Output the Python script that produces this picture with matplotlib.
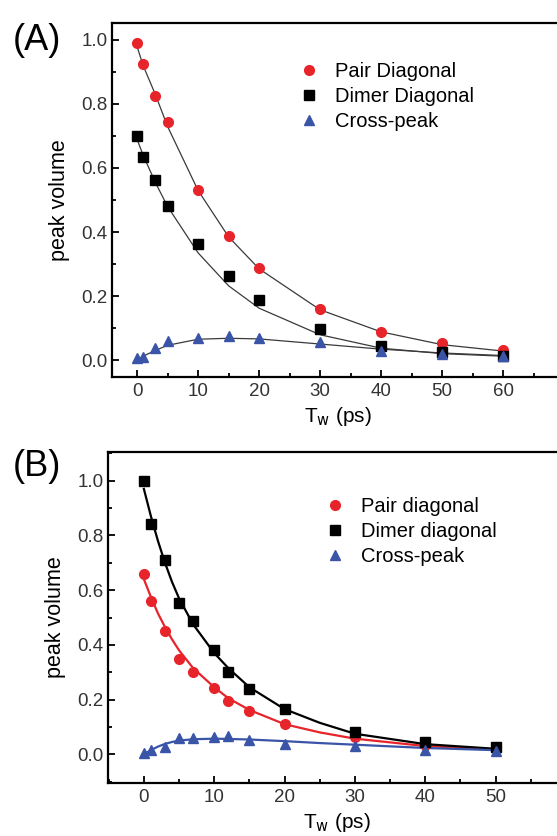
import numpy as np
import matplotlib
matplotlib.use('Agg')
import matplotlib.pyplot as plt
from matplotlib.ticker import MultipleLocator, FixedLocator, FormatStrFormatter

plt.rcParams['font.family'] = ['Liberation Sans', 'DejaVu Sans']
plt.rcParams['mathtext.default'] = 'regular'

# Panel A data
tw_a = [0, 1, 3, 5, 10, 15, 20, 30, 40, 50, 60]
pair_a = [0.99, 0.924, 0.824, 0.745, 0.53, 0.387, 0.287, 0.159, 0.088, 0.052, 0.031]
dimer_a = [0.70, 0.633, 0.562, 0.482, 0.364, 0.261, 0.187, 0.097, 0.043, 0.026, 0.013]
cross_a = [0.005, 0.008, 0.039, 0.058, 0.069, 0.074, 0.069, 0.055, 0.029, 0.019, 0.013]
# fitted values (panel A fit is drawn through the data times)
pair_a_fit = [0.98, 0.92, 0.83, 0.73, 0.53, 0.385, 0.285, 0.157, 0.088, 0.048, 0.028]
dimer_a_fit = [0.69, 0.64, 0.555, 0.48, 0.335, 0.232, 0.162, 0.079, 0.037, 0.02, 0.012]
cross_a_fit = [0.0, 0.012, 0.03, 0.046, 0.065, 0.068, 0.066, 0.05, 0.034, 0.022, 0.014]
xticks_a = [0, 10, 20, 30, 40, 50, 60]

# Panel B data
tw_b = [0, 1, 3, 5, 7, 10, 12, 15, 20, 30, 40, 50]
pair_b = [0.658, 0.559, 0.451, 0.35, 0.302, 0.244, 0.193, 0.157, 0.109, 0.062, 0.035, 0.027]
dimer_b = [1.0, 0.842, 0.709, 0.553, 0.489, 0.382, 0.302, 0.239, 0.164, 0.08, 0.044, 0.028]
cross_b = [0.005, 0.015, 0.027, 0.06, 0.06, 0.063, 0.066, 0.053, 0.039, 0.029, 0.015, 0.011]
# fitted curves
tw_b_fit = [0, 1, 2, 3, 4, 5, 7, 10, 12, 15, 20, 25, 30, 40, 50]
pair_b_fit = [0.64, 0.575, 0.515, 0.465, 0.42, 0.38, 0.315, 0.245, 0.205, 0.162, 0.11, 0.08, 0.057, 0.03, 0.018]
dimer_b_fit = [0.97, 0.87, 0.78, 0.70, 0.63, 0.57, 0.475, 0.37, 0.315, 0.245, 0.165, 0.115, 0.075, 0.037, 0.02]
cross_b_fit = [0.0, 0.015, 0.028, 0.038, 0.045, 0.05, 0.055, 0.057, 0.056, 0.054, 0.048, 0.041, 0.035, 0.023, 0.015]
xticks_b = [0, 10, 20, 30, 40, 50]

RED = '#e8242b'
BLUE = '#3a55a8'
W, H = 557, 836

fig = plt.figure(figsize=(W / 100, H / 100), dpi=100)


def style_axes(ax, xticks):
    ax.xaxis.set_major_locator(FixedLocator(xticks))
    ax.xaxis.set_minor_locator(MultipleLocator(5))
    ax.yaxis.set_major_locator(MultipleLocator(0.2))
    ax.yaxis.set_minor_locator(MultipleLocator(0.1))
    ax.tick_params(which='both', direction='in', width=1.3, labelsize=13.5,
                   labelcolor='#333333', top=False, right=False)
    ax.tick_params(which='major', length=5)
    ax.tick_params(axis='y', which='major', pad=3)
    ax.tick_params(axis='x', which='major', pad=4)
    ax.tick_params(which='minor', length=3)
    ax.yaxis.set_major_formatter(FormatStrFormatter('%.1f'))
    for s in ax.spines.values():
        s.set_linewidth(1.6)
    ax.set_ylabel('peak volume', fontsize=15.5, labelpad=8)
    ax.set_xlabel(r'T$_{\rm w}$ (ps)', fontsize=15, labelpad=4)


# ---- (A) ----
axA = fig.add_axes([112 / W, 1 - 377 / H, 451 / W, 354 / H])
axA.plot(tw_a, pair_a_fit, color='#3a3a3a', lw=0.9)
axA.plot(tw_a, dimer_a_fit, color='#3a3a3a', lw=0.9)
axA.plot(tw_a, cross_a_fit, color='#3a3a3a', lw=0.9)
axA.plot(tw_a, pair_a, 'o', color=RED, ms=7, label='Pair Diagonal')
axA.plot(tw_a, dimer_a, 's', color='black', ms=6.5, label='Dimer Diagonal')
axA.plot(tw_a, cross_a, '^', color=BLUE, ms=7, label='Cross-peak')
axA.set_xlim(-4.1, 69.8)
axA.set_ylim(-0.053, 1.053)
style_axes(axA, xticks_a)
axA.legend(loc='upper left', bbox_to_anchor=(0.37, 0.94), frameon=False,
           fontsize=14.5, handletextpad=0.7, labelspacing=0.3, handlelength=1.2)
fig.text(37 / W, 1 - 40 / H, '(A)', fontsize=26, ha='center', va='center')

# ---- (B) ----
axB = fig.add_axes([108 / W, 1 - 783 / H, 458 / W, 331 / H])
axB.plot(tw_b_fit, pair_b_fit, color=RED, lw=1.6)
axB.plot(tw_b_fit, dimer_b_fit, color='black', lw=1.6)
axB.plot(tw_b_fit, cross_b_fit, color=BLUE, lw=1.6)
axB.plot(tw_b, pair_b, 'o', color=RED, ms=7, label='Pair diagonal')
axB.plot(tw_b, dimer_b, 's', color='black', ms=6.5, label='Dimer diagonal')
axB.plot(tw_b, cross_b, '^', color=BLUE, ms=7, label='Cross-peak')
axB.set_xlim(-5.1, 60)
axB.set_ylim(-0.105, 1.105)
style_axes(axB, xticks_b)
axB.legend(loc='upper left', bbox_to_anchor=(0.43, 0.92), frameon=False,
           fontsize=14.5, handletextpad=0.7, labelspacing=0.3, handlelength=1.2)
fig.text(37 / W, 1 - 466 / H, '(B)', fontsize=26, ha='center', va='center')

plt.savefig('out.png', dpi=100)
